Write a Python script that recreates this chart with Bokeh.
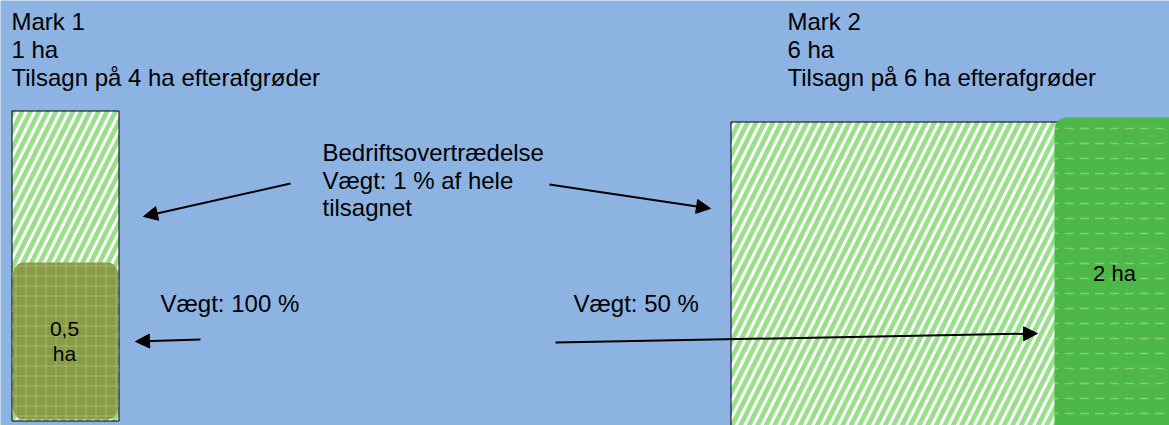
from bokeh.plotting import figure
from bokeh.models import Range1d, Arrow, NormalHead, ColumnDataSource
from bokeh.core.properties import value
from bokeh.embed import file_html
from bokeh.resources import INLINE

# ---- content ----
header_lines_1 = ["Mark 1", "1 ha", "Tilsagn på 4 ha efterafgrøder"]
header_lines_2 = ["Mark 2", "6 ha", "Tilsagn på 6 ha efterafgrøder"]
middle_lines = ["Bedriftsovertrædelse", "Vægt: 1 % af hele", "tilsagnet"]
weight_labels = ["Vægt: 100 %", "Vægt: 50 %"]
violation_labels_1 = ["0,5", "ha"]
violation_labels_2 = ["2 ha"]

# ---- layout (reference pixel space) ----
header_x = [11, 787]
header_y = [21, 49, 77]
middle_x = 322
middle_y = [152, 180, 207]
weight_x = [160, 573]
weight_y = [303, 303]
v1_x = [64, 64]
v1_y = [328, 353]
v2_x = [1114]
v2_y = [273]

field_left = [11.5, 730.5]
field_right = [118.5, 1200]
field_top = [110.5, 121.5]
field_bottom = [420.5, 440]

viol_left = [12.5, 1054]
viol_right = [117.5, 1200]
viol_top = [262, 117]
viol_bottom = [419, 440]
viol_fill = ["#899B45", "#4DB849"]
viol_hatch = ["#B9CF8C", "#A8DC94"]

arrow_x0 = [290, 549, 200, 555]
arrow_y0 = [183, 184, 339, 342]
arrow_x1 = [143, 710, 135, 1037]
arrow_y1 = [216, 208, 341, 333]

BG = "#8DB3E2"
FONT = value("Liberation Sans")

p = figure(width=1169, height=425, output_backend="svg", toolbar_location=None,
           x_range=Range1d(0, 1169), y_range=Range1d(425, 0),
           min_border=0, background_fill_color=BG, border_fill_color=BG,
           outline_line_color=None)
p.axis.visible = False
p.grid.visible = False

# fields (hatched)
p.quad(left=field_left, right=field_right, top=field_top, bottom=field_bottom,
       fill_color="#98E08A", line_color="black", line_width=1,
       hatch_pattern="right_diagonal_line", hatch_color="white",
       hatch_scale=17, hatch_weight=3)

# violation areas
p.quad(left=[viol_left[0]], right=[viol_right[0]], top=[viol_top[0]], bottom=[viol_bottom[0]],
       fill_color=viol_fill[0], line_color=None, border_radius=11,
       hatch_pattern="cross", hatch_color=viol_hatch[0], hatch_scale=10, hatch_weight=1, hatch_alpha=0.55)
p.quad(left=[viol_left[1]], right=[viol_right[1]], top=[viol_top[1]], bottom=[viol_bottom[1]],
       fill_color=viol_fill[1], line_color=None, border_radius=12,
       hatch_pattern="horizontal_dash", hatch_color=viol_hatch[1], hatch_scale=15, hatch_weight=1.5, hatch_alpha=0.6)

# arrows
src = ColumnDataSource(dict(x0=arrow_x0, y0=arrow_y0, x1=arrow_x1, y1=arrow_y1))
p.add_layout(Arrow(x_start="x0", y_start="y0", x_end="x1", y_end="y1", source=src,
                   line_color="black", line_width=2,
                   end=NormalHead(size=14, fill_color="black", line_color="black", line_width=1)))

def txt(xs, ys, ts, size="24px", align="left"):
    p.text(x=xs, y=ys, text=ts, text_font=FONT, text_font_size=size,
           text_color="black", text_align=align, text_baseline="alphabetic")

txt([header_x[0]] * 3, header_y, header_lines_1)
txt([header_x[1]] * 3, header_y, header_lines_2)
txt([middle_x] * 3, middle_y, middle_lines)
txt(weight_x, weight_y, weight_labels)
txt(v1_x, v1_y, violation_labels_1, size="21px", align="center")
txt(v2_x, v2_y, violation_labels_2, size="22px", align="center")

open("out.html", "w").write(file_html(p, INLINE))
